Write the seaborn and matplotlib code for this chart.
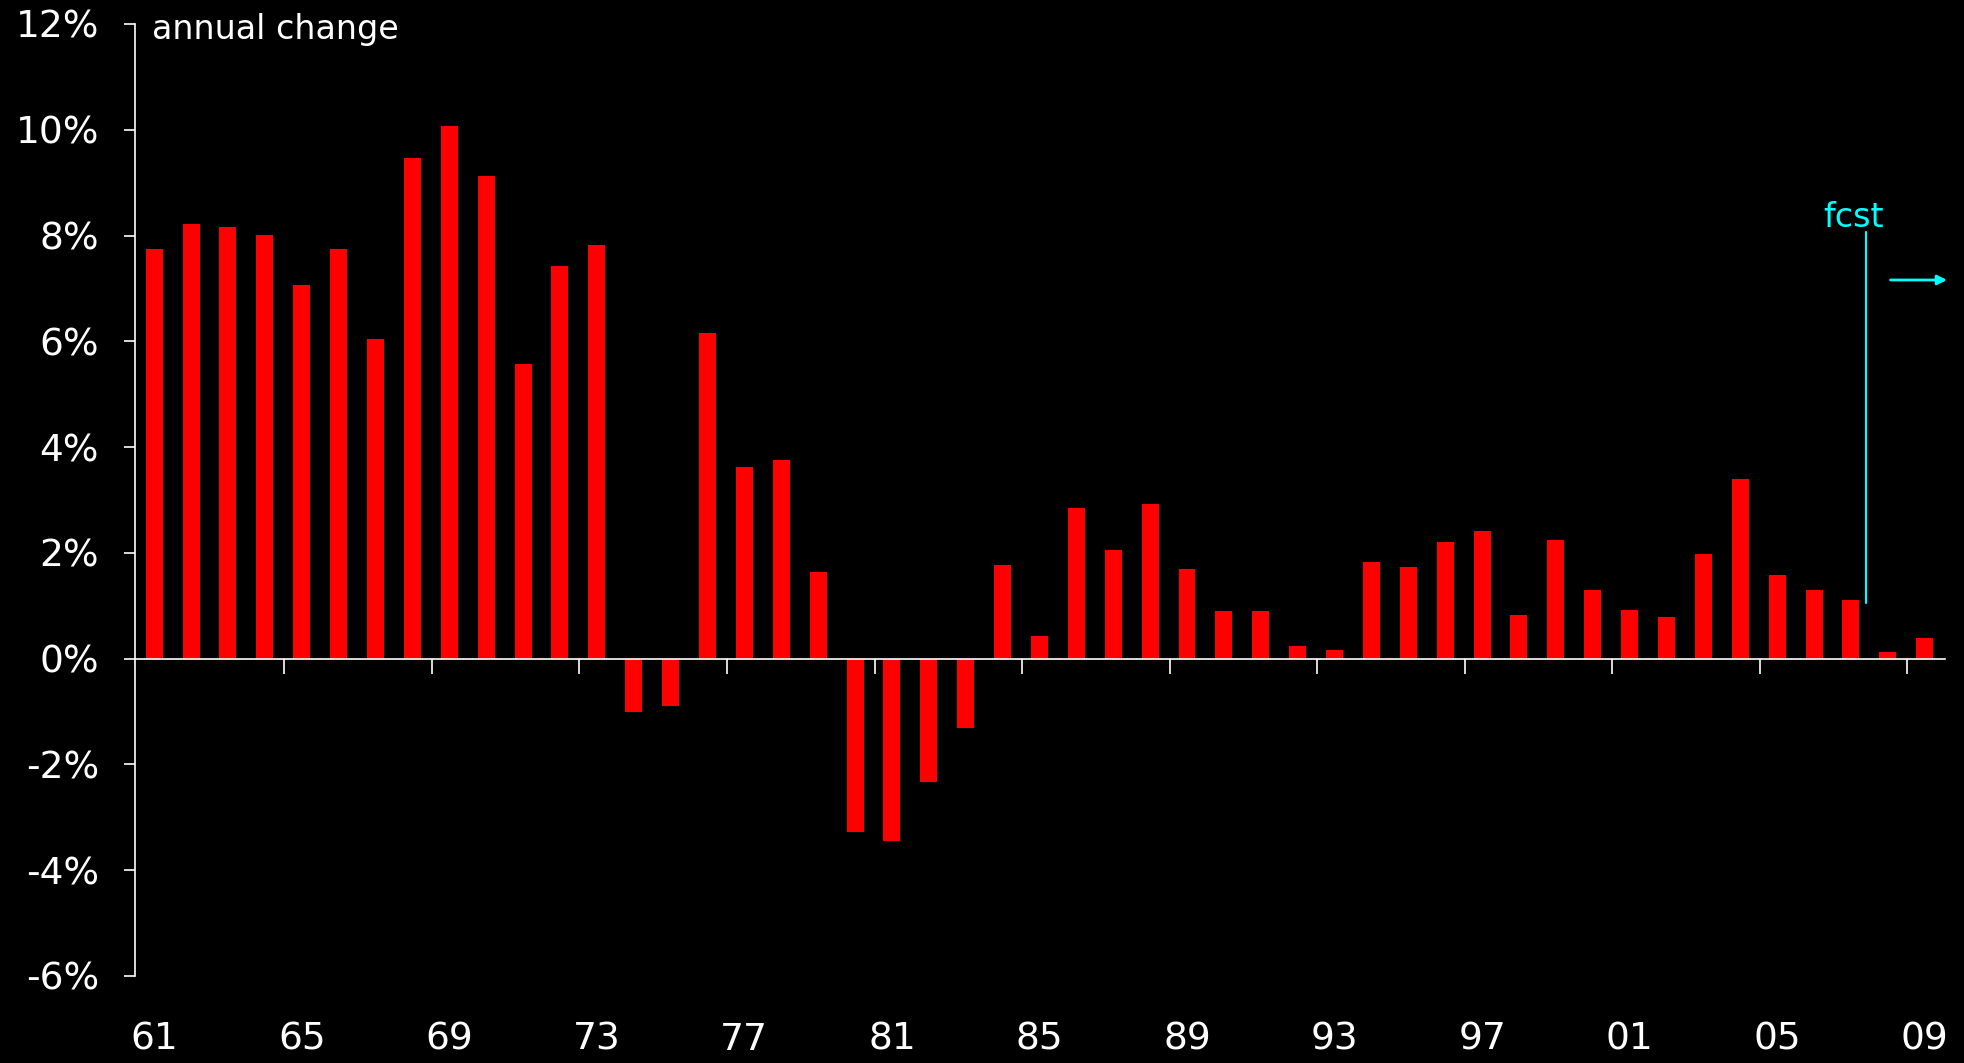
import matplotlib
matplotlib.use('Agg')
import matplotlib.pyplot as plt
import seaborn as sns
import pandas as pd
from matplotlib.transforms import blended_transform_factory

# ---- data ----
years = list(range(1961, 2010))
year_labels = [f"{y % 100:02d}" for y in years]
values = [7.75, 8.22, 8.16, 8.01, 7.07, 7.75, 6.05, 9.47, 10.07, 9.13, 5.58, 7.43, 7.83,
          -1.00, -0.89, 6.16, 3.62, 3.76, 1.63, -3.28, -3.45, -2.33, -1.32, 1.77, 0.43,
          2.85, 2.06, 2.93, 1.70, 0.90, 0.90, 0.24, 0.16, 1.82, 1.73, 2.20, 2.41, 0.82,
          2.24, 1.30, 0.92, 0.78, 1.98, 3.39, 1.58, 1.30, 1.11, 0.12, 0.39]
shown_years = ["61", "65", "69", "73", "77", "81", "85", "89", "93", "97", "01", "05", "09"]
y_ticks = [-6, -4, -2, 0, 2, 4, 6, 8, 10, 12]
y_tick_labels = [f"{t}%" for t in y_ticks]
fcst_label = "fcst"
unit_label = "annual change"

df = pd.DataFrame({"year": year_labels, "change": values})

sns.set_theme(style="white")
plt.rcParams['font.family'] = ['DejaVu Sans']

W, H = 1965, 1063
fig = plt.figure(figsize=(W / 100, H / 100), dpi=100, facecolor='black')
ax = fig.add_axes([135 / W, 1 - 976 / H, (1945 - 135) / W, (976 - 24) / H])
ax.set_facecolor('black')

sns.barplot(data=df, x="year", y="change", order=year_labels, color="#FF0000",
            saturation=1, width=0.46, linewidth=0, edgecolor='none', ax=ax)

ax.set_xlim(-0.52, 48.55)
ax.set_ylim(-6, 12)
ax.set_xlabel("")
ax.set_ylabel("")

# spines
for s in ['top', 'right']:
    ax.spines[s].set_visible(False)
ax.spines['left'].set_color('white')
ax.spines['left'].set_linewidth(1.2)
ax.spines['bottom'].set_color('white')
ax.spines['bottom'].set_linewidth(1.2)
ax.spines['bottom'].set_position(('data', 0))

# y ticks
ax.set_yticks(y_ticks)
ax.set_yticklabels(y_tick_labels, color='white', fontsize=27)
ax.tick_params(axis='y', direction='out', length=8, width=1.2, color='white', pad=18, left=True)

# x ticks (marks between categories, labels placed at bottom)
idx = [year_labels.index(lbl) for lbl in shown_years]
ax.set_xticks([i - 0.47 for i in idx[1:]])
ax.set_xticklabels([])
ax.tick_params(axis='x', direction='out', length=11, width=1.2, color='white', bottom=True)

trans = blended_transform_factory(ax.transData, ax.transAxes)
for i, lbl in zip(idx, shown_years):
    ax.text(i, -0.067, lbl, transform=trans, ha='center', va='center',
            color='white', fontsize=27, clip_on=False)

# unit label
ax.text(-0.05, 11.9, unit_label, ha='left', va='center', color='white', fontsize=24,
        clip_on=False)

# forecast marker
cyan = '#00FFFF'
fcst_x = 46.42
ax.plot([fcst_x, fcst_x], [1.05, 8.07], color=cyan, lw=1.5)
ax.text(46.06, 8.35, fcst_label, ha='center', va='center', color=cyan, fontsize=24)
ax.annotate('', xy=(48.68, 7.16), xytext=(47.0, 7.16),
            arrowprops=dict(arrowstyle='-|>', color=cyan, lw=2, mutation_scale=14),
            annotation_clip=False)

fig.savefig('out.png', dpi=100, facecolor='black')
